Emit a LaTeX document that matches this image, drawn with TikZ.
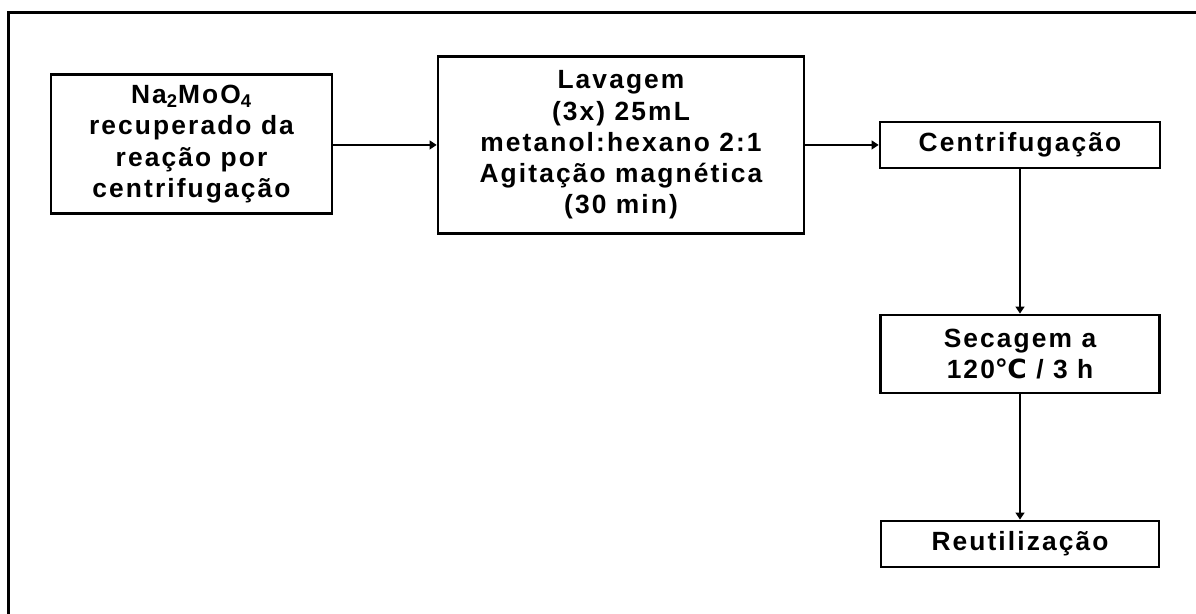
\documentclass[tikz,border=0pt]{standalone}
\usepackage{fontspec}
\setmainfont{Liberation Sans}
\newfontfamily\stepfont[LetterSpace=8]{Liberation Sans}
\newfontfamily\degfont{DejaVu Sans}
\usetikzlibrary{arrows.meta}

\tikzset{
  procbox/.style={draw, line width=1.5pt, align=center, inner sep=2pt,
    font=\stepfont\bfseries\fontsize{15}{17.8}\selectfont},
  flow/.style={line width=1.4pt, -{Triangle[length=4pt,width=5pt]}}
}

\begin{document}
\begin{tikzpicture}
  \useasboundingbox (0,0) rectangle (23.92,12.28);
  % open frame, only top and left edges show
  \draw[line width=1.5pt] (0.166,0) -- (0.166,12.03) -- (23.92,12.03);

  \node[procbox, minimum width=5.62cm, minimum height=2.78cm] (recup) at (3.83,9.40)
    {Na\textsubscript{2}MoO\textsubscript{4}\\recuperado da\\reação por\\centrifugação};
  \node[procbox, minimum width=7.32cm, minimum height=3.54cm] (lavag) at (12.42,9.38)
    {Lavagem\\(3x) 25mL\\metanol:hexano 2:1\\Agitação magnética\\(30 min)};
  \node[procbox, minimum width=5.6cm, minimum height=0.92cm] (centr) at (20.4,9.38)
    {Centrifugação};
  \node[procbox, minimum width=5.58cm, minimum height=1.56cm] (secag) at (20.4,5.2)
    {Secagem a\\120{\degfont\bfseries ℃} / 3 h};
  \node[procbox, minimum width=5.56cm, minimum height=0.92cm] (reuti) at (20.4,1.4)
    {Reutilização};

  \draw[flow] (recup.east |- lavag.west) -- (lavag.west);
  \draw[flow] (lavag.east) -- (centr.west);
  \draw[flow] (centr) -- (secag);
  \draw[flow] (secag) -- (reuti);
\end{tikzpicture}
\end{document}
